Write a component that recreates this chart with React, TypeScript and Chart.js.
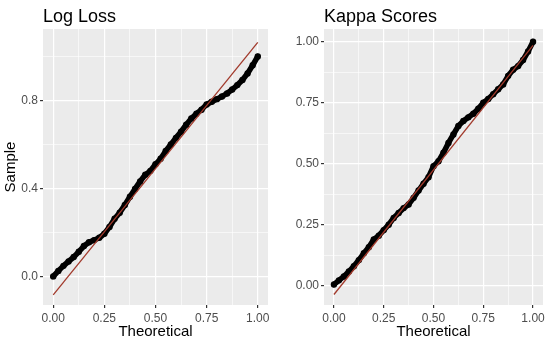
import React, { useEffect, useRef } from "react";
import { Chart, registerables } from "chart.js";
Chart.register(...registerables);

// Theoretical quantiles (x positions of the sample points)
const theoretical = [
  0, 0.025, 0.05, 0.075, 0.1, 0.125, 0.15, 0.175, 0.2, 0.225, 0.25, 0.275, 0.3, 0.325,
  0.35, 0.375, 0.4, 0.425, 0.45, 0.475, 0.5, 0.525, 0.55, 0.575, 0.6, 0.625, 0.65, 0.675,
  0.7, 0.725, 0.75, 0.775, 0.8, 0.825, 0.85, 0.875, 0.9, 0.925, 0.95, 0.975, 1.0,
];

// Sample quantiles
const logLossSample = [
  0.0, 0.025, 0.048, 0.068, 0.088, 0.112, 0.138, 0.155, 0.165, 0.176, 0.194, 0.225, 0.262,
  0.29, 0.325, 0.362, 0.398, 0.432, 0.462, 0.48, 0.51, 0.535, 0.57, 0.6, 0.63, 0.658, 0.69,
  0.718, 0.74, 0.758, 0.782, 0.794, 0.806, 0.818, 0.832, 0.85, 0.87, 0.893, 0.923, 0.96, 1.0,
];
const kappaSample = [
  0.005, 0.022, 0.038, 0.058, 0.08, 0.105, 0.133, 0.158, 0.19, 0.205, 0.228, 0.25, 0.278,
  0.298, 0.318, 0.333, 0.36, 0.39, 0.418, 0.445, 0.49, 0.51, 0.545, 0.585, 0.62, 0.655,
  0.675, 0.69, 0.705, 0.725, 0.75, 0.765, 0.785, 0.805, 0.825, 0.86, 0.885, 0.9, 0.925,
  0.96, 1.0,
];

// Reference (qq) lines: values at x = 0 and x = 1
const refLineX = [0, 1];
const logLossRefLine = [-0.084, 1.064];
const kappaRefLine = [-0.036, 0.985];

// Axis ticks
const xMajorTicks = [0, 0.25, 0.5, 0.75, 1];
const xMinorTicks = [0.125, 0.375, 0.625, 0.875];
const logLossYMajor = [0, 0.4, 0.8];
const logLossYMinor = [0.2, 0.6, 1.0];
const kappaYMajor = [0, 0.25, 0.5, 0.75, 1];
const kappaYMinor = [0.125, 0.375, 0.625, 0.875];

const FONT = '"Liberation Sans", Arial, Helvetica, sans-serif';

type PanelProps = {
  title: string;
  sample: number[];
  refLine: number[];
  yMajor: number[];
  yMinor: number[];
  yMin: number;
  yMax: number;
  yDecimals: number;
  yAxisWidth: number;
  yTitle?: string;
};

const has = (arr: number[], v: number) => arr.some((a) => Math.abs(a - v) < 1e-6);

function Panel(props: PanelProps) {
  const ref = useRef<HTMLCanvasElement | null>(null);
  useEffect(() => {
    if (!ref.current) return;
    const bgPlugin = {
      id: "panelBg",
      beforeDraw(chart: any) {
        const { ctx, chartArea: a } = chart;
        ctx.save();
        ctx.fillStyle = "#EBEBEB";
        ctx.fillRect(a.left, a.top, a.right - a.left, a.bottom - a.top);
        ctx.restore();
      },
    };
    const titlePlugin = {
      id: "panelTitle",
      afterDraw(chart: any) {
        const { ctx, chartArea: a } = chart;
        ctx.save();
        ctx.font = `18px ${FONT}`;
        ctx.fillStyle = "#000000";
        ctx.textAlign = "left";
        ctx.textBaseline = "alphabetic";
        ctx.fillText(props.title, a.left, 22);
        ctx.restore();
      },
    };
    const chart = new Chart(ref.current, {
      type: "scatter",
      data: {
        datasets: [
          {
            data: refLineX.map((x, i) => ({ x, y: props.refLine[i] })),
            showLine: true,
            borderColor: "#A23A2C",
            borderWidth: 1.3,
            pointRadius: 0,
            order: 0,
          } as any,
          {
            data: theoretical.map((x, i) => ({ x, y: props.sample[i] })),
            showLine: true,
            borderColor: "#000000",
            backgroundColor: "#000000",
            borderWidth: 5.5,
            borderCapStyle: "round",
            borderJoinStyle: "round",
            pointRadius: 3.2,
            pointBorderWidth: 0,
            order: 1,
          } as any,
        ],
      },
      options: {
        animation: false,
        responsive: false,
        devicePixelRatio: 1,
        layout: { padding: { top: 29, right: 7, left: 0, bottom: 0 } },
        plugins: { legend: { display: false }, tooltip: { enabled: false } },
        scales: {
          x: {
            type: "linear",
            min: -0.05,
            max: 1.05,
            afterBuildTicks: (s: any) => {
              s.ticks = [...xMajorTicks, ...xMinorTicks]
                .sort((a, b) => a - b)
                .map((v) => ({ value: v }));
            },
            afterFit: (s: any) => {
              s.height = 39;
            },
            ticks: {
              autoSkip: false,
              maxRotation: 0,
              padding: 3,
              color: "#4D4D4D",
              font: { family: FONT, size: 12 },
              callback: (v: any) => (has(xMajorTicks, v) ? Number(v).toFixed(2) : ""),
            },
            grid: {
              color: "#FFFFFF",
              lineWidth: (c: any) => (has(xMajorTicks, c.tick?.value) ? 1.2 : 0.6),
              tickColor: (c: any) =>
                has(xMajorTicks, c.tick?.value) ? "#333333" : "rgba(0,0,0,0)",
              tickLength: 3,
              drawTicks: true,
            },
            border: { display: false },
            title: {
              display: true,
              text: "Theoretical",
              color: "#000000",
              font: { family: FONT, size: 15, lineHeight: 1.2 },
              padding: { top: 0, bottom: 3 },
            },
          },
          y: {
            type: "linear",
            min: props.yMin,
            max: props.yMax,
            afterBuildTicks: (s: any) => {
              s.ticks = [...props.yMajor, ...props.yMinor]
                .sort((a, b) => a - b)
                .map((v) => ({ value: v }));
            },
            afterFit: (s: any) => {
              s.width = props.yAxisWidth;
            },
            ticks: {
              autoSkip: false,
              padding: 2,
              color: "#4D4D4D",
              font: { family: FONT, size: 12 },
              callback: (v: any) =>
                has(props.yMajor, v) ? Number(v).toFixed(props.yDecimals) : "",
            },
            grid: {
              color: "#FFFFFF",
              lineWidth: (c: any) => (has(props.yMajor, c.tick?.value) ? 1.2 : 0.6),
              tickColor: (c: any) =>
                has(props.yMajor, c.tick?.value) ? "#333333" : "rgba(0,0,0,0)",
              tickLength: 3,
              drawTicks: true,
            },
            border: { display: false },
            title: {
              display: !!props.yTitle,
              text: props.yTitle || "",
              color: "#000000",
              font: { family: FONT, size: 15, lineHeight: 1.2 },
              padding: { top: 2, bottom: 0 },
            },
          },
        },
      } as any,
      plugins: [bgPlugin, titlePlugin],
    });
    return () => chart.destroy();
  }, []);
  return <canvas ref={ref} width={275} height={344} style={{ display: "block" }} />;
}

export default function App() {
  return (
    <div
      style={{
        position: "absolute",
        left: 0,
        top: 0,
        width: 550,
        height: 344,
        display: "flex",
        background: "#FFFFFF",
      }}
    >
      <Panel
        title="Log Loss"
        sample={logLossSample}
        refLine={logLossRefLine}
        yMajor={logLossYMajor}
        yMinor={logLossYMinor}
        yMin={-0.13}
        yMax={1.125}
        yDecimals={1}
        yAxisWidth={43}
        yTitle="Sample"
      />
      <Panel
        title="Kappa Scores"
        sample={kappaSample}
        refLine={kappaRefLine}
        yMajor={kappaYMajor}
        yMinor={kappaYMinor}
        yMin={-0.079}
        yMax={1.052}
        yDecimals={2}
        yAxisWidth={49}
      />
    </div>
  );
}
